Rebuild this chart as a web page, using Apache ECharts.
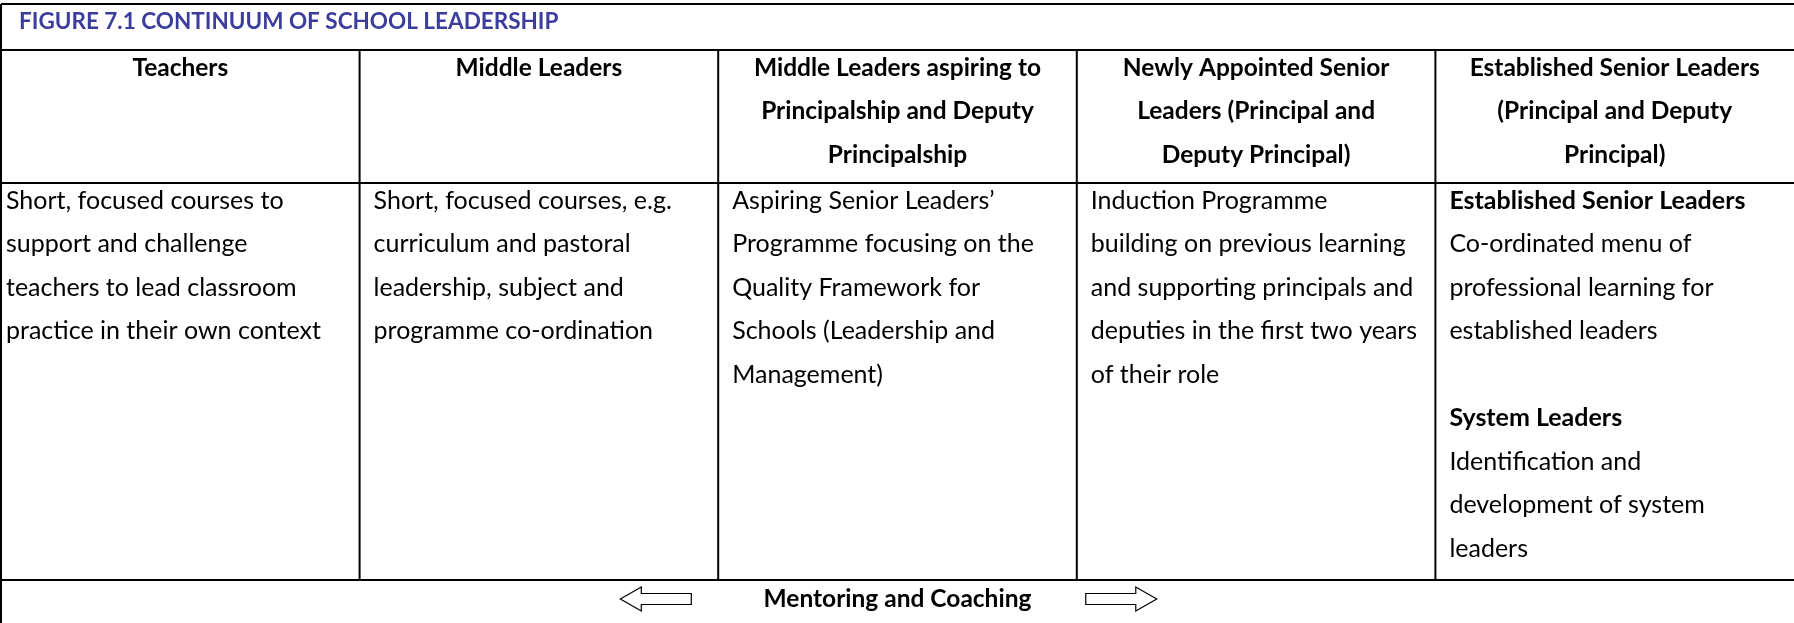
<!DOCTYPE html>
<html><head><meta charset="utf-8">
<script src="https://cdn.jsdelivr.net/npm/echarts@6/dist/echarts.min.js"></script>
<style>html,body{margin:0;padding:0;background:#fff;overflow:hidden}#c{width:1794px;height:623px}</style>
</head><body><div id="c"></div>
<script>
// ---------- content ----------
const titleText = 'FIGURE 7.1 CONTINUUM OF SCHOOL LEADERSHIP';
const headers = [
  ['Teachers'],
  ['Middle Leaders'],
  ['Middle Leaders aspiring to', 'Principalship and Deputy', 'Principalship'],
  ['Newly Appointed Senior', 'Leaders (Principal and', 'Deputy Principal)'],
  ['Established Senior Leaders', '(Principal and Deputy', 'Principal)']
];
const bodyLines = [
  ['Short, focused courses to', 'support and challenge', 'teachers to lead classroom', 'practice in their own context'],
  ['Short, focused courses, e.g.', 'curriculum and pastoral', 'leadership, subject and', 'programme co-ordination'],
  ['Aspiring Senior Leaders\u2019', 'Programme focusing on the', 'Quality Framework for', 'Schools (Leadership and', 'Management)'],
  ['Induction Programme', 'building on previous learning', 'and supporting principals and', 'deputies in the first two years', 'of their role'],
  ['Established Senior Leaders', 'Co-ordinated menu of', 'professional learning for', 'established leaders', '', 'System Leaders', 'Identification and', 'development of system', 'leaders']
];
const bodyBoldLines = [[], [], [], [], [0, 5]];
const footerText = 'Mentoring and Coaching';

// ---------- layout (pixels on the y axis, column units on the x axis) ----------
const FONT = 'Lato';
const FS = {title: 22.5, header: 24.5, body: 25, footer: 24.5};
const MID = 0.34;           // baseline -> text middle, in em
const ROW = {top: 4, title: 50, header: 183, body: 580, end: 623};
const LINE_H = 43.5;
const BASE = {title: 29, header: 76, body: 209, footer: 607};
const COL_PX = 359;
const PAD_FIRST = 5 / COL_PX, PAD = 14 / COL_PX;
const TITLE_X = 18 / COL_PX;
const ARROW_L = 1.727, ARROW_R = 3.223; // arrow tips, column units

const NCOL = headers.length;
const segs = [
  [0, ROW.top, NCOL, ROW.top],
  [0, ROW.title, NCOL, ROW.title],
  [0, ROW.header, NCOL, ROW.header],
  [0, ROW.body, NCOL, ROW.body],
  [0, ROW.top, 0, ROW.end]
];
for (let i = 1; i < NCOL; i++) segs.push([i, ROW.title, i, ROW.body]);

const texts = [];
texts.push([TITLE_X, BASE.title, titleText, 'left', 'bold', '#3b3c9c', FS.title]);
headers.forEach((lines, c) => lines.forEach((t, k) =>
  texts.push([c + 0.5, BASE.header + k * LINE_H, t, 'center', 'bold', '#000', FS.header])));
bodyLines.forEach((lines, c) => lines.forEach((t, k) => {
  if (!t) return;
  const bold = bodyBoldLines[c].indexOf(k) >= 0;
  texts.push([c + (c === 0 ? PAD_FIRST : PAD), BASE.body + k * LINE_H, t, 'left',
    bold ? 'bold' : 'normal', '#000', FS.body]);
}));
texts.push([NCOL / 2, BASE.footer, footerText, 'center', 'bold', '#000', FS.footer]);

const arrows = [[ARROW_L, -1], [ARROW_R, 1]];

const chart = echarts.init(document.getElementById('c'), null, {renderer: 'canvas'});
chart.setOption({
  animation: false,
  backgroundColor: '#fff',
  grid: {left: 1, top: 0, width: COL_PX * NCOL, height: 623},
  xAxis: {type: 'value', min: 0, max: NCOL, show: false},
  yAxis: {type: 'value', min: 0, max: 623, inverse: true, show: false},
  series: [
    {
      type: 'custom', data: segs, silent: true,
      renderItem: (p, api) => {
        const a = api.coord([api.value(0), api.value(1)]);
        const b = api.coord([api.value(2), api.value(3)]);
        return {type: 'line', shape: {x1: a[0], y1: a[1], x2: b[0], y2: b[1]},
          style: {stroke: '#000', lineWidth: 2}};
      }
    },
    {
      type: 'custom', data: texts.map(t => [t[0], t[1]]), silent: true,
      renderItem: (p, api) => {
        const t = texts[p.dataIndex];
        const q = api.coord([t[0], t[1]]);
        return {type: 'text', x: q[0], y: q[1] - MID * t[6],
          style: {text: t[2], fontFamily: FONT, fontSize: t[6], fontWeight: t[4], fill: t[5],
            align: t[3], verticalAlign: 'middle'}};
      }
    },
    {
      type: 'custom', data: arrows, silent: true,
      renderItem: (p, api) => {
        const tip = api.coord([api.value(0), BASE.footer - 8]);
        const d = api.value(1);
        const headL = 21, shaftL = 50, hh = 12, sh = 5.5;
        const pts = [
          [0, 0], [headL, -hh], [headL, -sh], [headL + shaftL, -sh],
          [headL + shaftL, sh], [headL, sh], [headL, hh]
        ].map(v => [tip[0] - d * v[0], tip[1] + v[1]]);
        return {type: 'polygon', shape: {points: pts},
          style: {fill: '#fff', stroke: '#000', lineWidth: 1.2}};
      }
    }
  ]
});
</script></body></html>
